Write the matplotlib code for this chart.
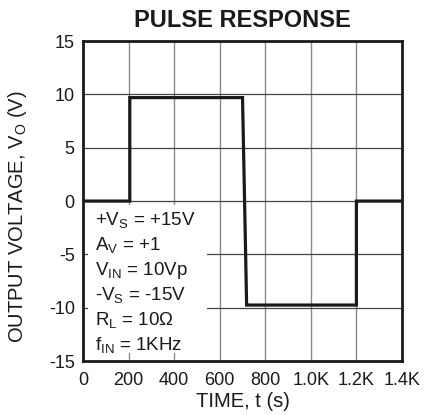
import matplotlib.pyplot as plt
from matplotlib.patches import Rectangle

plt.rcParams['font.family'] = ['Liberation Sans', 'DejaVu Sans']
plt.rcParams['mathtext.fontset'] = 'custom'
plt.rcParams['mathtext.rm'] = 'Liberation Sans'
plt.rcParams['mathtext.it'] = 'Liberation Sans'

# pulse waveform
time_s = [0, 205, 205, 700, 718, 1200, 1200, 1400]
vout = [0, 0, 9.7, 9.7, -9.75, -9.75, 0, 0]

xticks = [0, 200, 400, 600, 800, 1000, 1200, 1400]
xlabels = ['0', '200', '400', '600', '800', '1.0K', '1.2K', '1.4K']
yticks = [-15, -10, -5, 0, 5, 10, 15]
ylabels = ['-15', '-10', '-5', '0', '5', '10', '15']

cond = ['+V$_{\\mathrm{S}}$ = +15V', 'A$_{\\mathrm{V}}$ = +1', 'V$_{\\mathrm{IN}}$ = 10Vp',
        '-V$_{\\mathrm{S}}$ = -15V', 'R$_{\\mathrm{L}}$ = 10\u03a9', 'f$_{\\mathrm{IN}}$ = 1KHz']
cond_y = [-2.25, -4.6, -6.95, -9.3, -11.65, -14.0]

fig = plt.figure(figsize=(4.24, 4.15), dpi=100)
ax = fig.add_axes([0.196, 0.130, 0.752, 0.771])

for x in xticks[1:-1]:
    ax.axvline(x, color='#8a8a8a', lw=1.0, zorder=1)
for y in yticks[1:-1]:
    ax.axhline(y, color='#444444', lw=0.9, zorder=1)

# white patch behind the conditions block
ax.add_patch(Rectangle((22, -14.2), 523, 13.8, facecolor='white', edgecolor='none', zorder=2))
for s, y in zip(cond, cond_y):
    ax.text(53, y, s, fontsize=13.5, va='baseline', ha='left', color='#1a1a1a', zorder=3)

ax.plot(time_s, vout, color='#1a1a1a', lw=2.3, zorder=4, solid_joinstyle='miter')

ax.set_xlim(0, 1400)
ax.set_ylim(-15, 15)
ax.set_xticks(xticks)
ax.set_xticklabels(xlabels)
ax.set_yticks(yticks)
ax.set_yticklabels(ylabels)
ax.tick_params(length=0, labelsize=13, colors='#1a1a1a')
ax.tick_params(axis='x', pad=8)
ax.tick_params(axis='y', pad=6)
for s in ax.spines.values():
    s.set_linewidth(2.0)
    s.set_color('#1a1a1a')
    s.set_zorder(5)

ax.set_title('PULSE RESPONSE', fontsize=17, fontweight='bold', pad=10, color='#1a1a1a')
ax.set_xlabel('TIME, t (s)', fontsize=14.5, color='#1a1a1a')
ax.set_ylabel('OUTPUT VOLTAGE, V$_{\\mathrm{O}}$ (V)', fontsize=14.5, color='#1a1a1a')
ax.xaxis.set_label_coords(0.5, -0.097)
ax.yaxis.set_label_coords(-0.17, 0.45)

fig.savefig('out.png', dpi=100)
